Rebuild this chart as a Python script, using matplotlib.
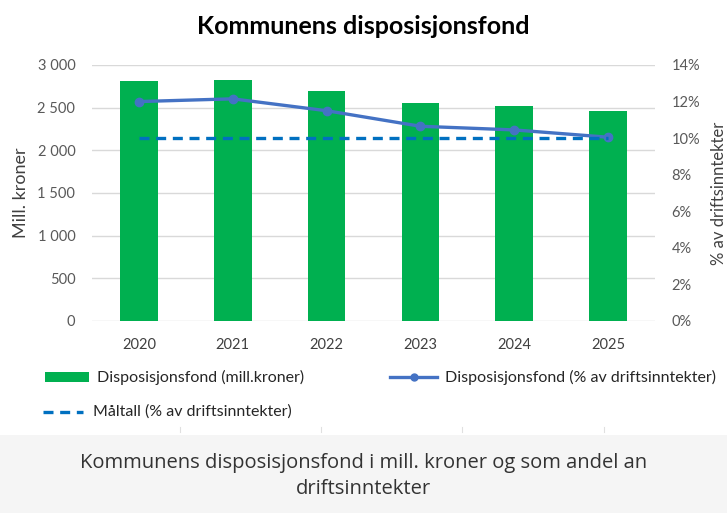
import matplotlib
matplotlib.use('Agg')
import numpy as np
from matplotlib import pyplot as plt
from matplotlib.patches import Rectangle
from matplotlib.lines import Line2D

years = ['2020', '2021', '2022', '2023', '2024', '2025']
fond_mill = [2810, 2825, 2690, 2550, 2520, 2460]
fond_pct = [12.0, 12.15, 11.5, 10.65, 10.45, 10.05]
maltall_pct = [10, 10, 10, 10, 10, 10]

left_ticks = [0, 500, 1000, 1500, 2000, 2500, 3000]
right_ticks = [0, 2, 4, 6, 8, 10, 12, 14]

green = '#00B050'
line_blue = '#4472C4'
dash_blue = '#0070C0'
tick_col = '#595959'

plt.rcParams['font.family'] = ['Lato', 'DejaVu Sans']

fig = plt.figure(figsize=(7.27, 5.13), dpi=100)


def fx(px):
    return px / 727


def fy(py):
    return 1 - py / 513


# grey caption panel at the bottom
fig.patches.append(Rectangle((0, 0), 1, 78 / 513, transform=fig.transFigure,
                             facecolor='#F5F5F5', edgecolor='none', zorder=0))
# faint separator marks above the panel
for px in [180, 321, 462, 604]:
    fig.lines.append(Line2D([fx(px), fx(px)], [fy(427), fy(432)], transform=fig.transFigure,
                            color='#E0E0E0', linewidth=0.8))

ax = fig.add_axes([92 / 727, 192 / 513, 563 / 727, 256 / 513])
x = np.arange(len(years))
ax.bar(x, fond_mill, width=0.4, color=green, zorder=2)
ax.set_xlim(-0.5, len(years) - 0.5)
ax.set_ylim(0, 3000)
ax.set_yticks(left_ticks)
ax.set_yticklabels([f'{v:,}'.replace(',', ' ') for v in left_ticks])
ax.set_xticks(x)
ax.set_xticklabels(years)
ax.grid(axis='y', color='#D9D9D9', linewidth=1, zorder=0)
for s in ax.spines.values():
    s.set_visible(False)
ax.tick_params(axis='y', length=0, labelsize=10.5, labelcolor=tick_col, pad=12)
ax.tick_params(axis='x', length=0, labelsize=10.5, labelcolor='#404040', pad=12)
ax.set_ylabel('Mill. kroner', fontsize=13, color='#404040', labelpad=6)

ax2 = ax.twinx()
ax2.plot(x, fond_pct, color=line_blue, linewidth=2.4, marker='o', markersize=6, zorder=3)
ax2.plot(x, maltall_pct, color=dash_blue, linewidth=2.4, linestyle=(0, (3, 2)), zorder=3)
ax2.set_ylim(0, 14)
ax2.set_yticks(right_ticks)
ax2.set_yticklabels([f'{v}%' for v in right_ticks])
for s in ax2.spines.values():
    s.set_visible(False)
ax2.tick_params(axis='y', length=0, labelsize=10.5, labelcolor=tick_col, pad=12)
ax2.set_ylabel('% av driftsinntekter', fontsize=12, color='#404040', labelpad=8)

fig.text(0.5, fy(27), 'Kommunens disposisjonsfond', ha='center', va='center',
         fontsize=18, fontweight='bold', color='black')

# legend drawn by hand in figure pixels
fig.patches.append(Rectangle((fx(45), fy(382)), fx(44), 10 / 513, transform=fig.transFigure,
                             facecolor=green, edgecolor='none'))
fig.text(fx(97), fy(377), 'Disposisjonsfond (mill.kroner)', fontsize=11.5, va='center', color='#262626')
fig.lines.append(Line2D([fx(390), fx(437)], [fy(377), fy(377)], transform=fig.transFigure,
                        color=line_blue, linewidth=2.4))
fig.lines.append(Line2D([fx(414)], [fy(377)], transform=fig.transFigure,
                        color=line_blue, marker='o', markersize=5))
fig.text(fx(445), fy(377), 'Disposisjonsfond (% av driftsinntekter)', fontsize=11.5, va='center',
         color='#262626')
fig.lines.append(Line2D([fx(43), fx(83)], [fy(412), fy(412)], transform=fig.transFigure,
                        color=dash_blue, linewidth=2.4, linestyle=(0, (3, 2))))
fig.text(fx(93), fy(412), 'Måltall (% av driftsinntekter)', fontsize=11.5, va='center', color='#262626')

fig.text(0.5, fy(476), 'Kommunens disposisjonsfond i mill. kroner og som andel an\ndriftsinntekter',
         ha='center', va='center', fontsize=14.5, color='#333333', family=['Open Sans', 'DejaVu Sans'],
         linespacing=1.35)

fig.savefig('out.png', dpi=100)
